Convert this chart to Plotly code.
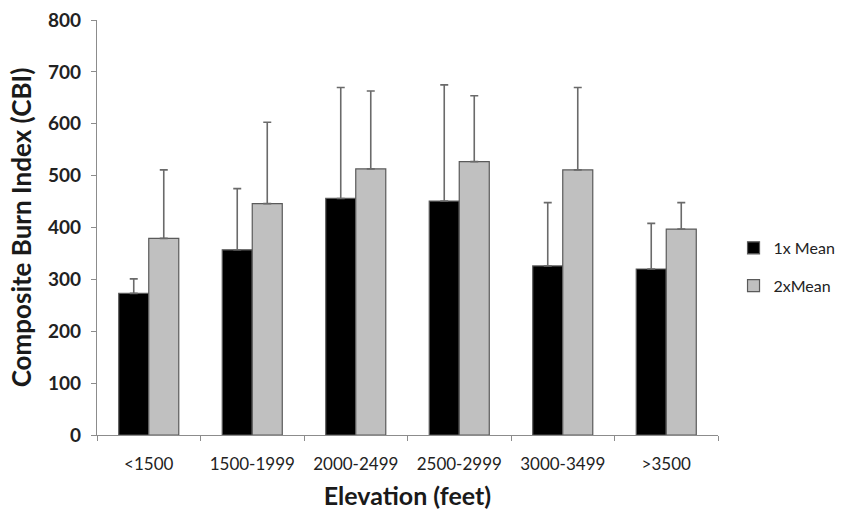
import plotly.graph_objects as go

# Elevation bands and composite burn index values
categories = ["<1500", "1500-1999", "2000-2499", "2500-2999", "3000-3499", ">3500"]
mean_1x = [273, 357, 456, 451, 326, 320]
err_1x = [28, 118, 214, 224, 122, 88]
mean_2x = [379, 446, 513, 527, 511, 397]
err_2x = [132, 157, 150, 127, 159, 51]

bar_line = dict(color="#5a5a5a", width=1.2)
err_style = dict(symmetric=False, thickness=1.6, width=4, color="#6a6a6a")

fig = go.Figure()
fig.add_trace(go.Bar(
    x=categories, y=mean_1x, name="1x Mean", legendgroup="a",
    marker=dict(color="#000000", line=bar_line),
    error_y=dict(type="data", array=err_1x, arrayminus=[0] * len(err_1x), **err_style),
))
fig.add_trace(go.Bar(
    x=categories, y=mean_2x, name="2xMean", legendgroup="b",
    marker=dict(color="#c0c0c0", line=bar_line),
    error_y=dict(type="data", array=err_2x, arrayminus=[0] * len(err_2x), **err_style),
))

fig.update_layout(
    width=843, height=517,
    margin=dict(l=97, r=125, t=20, b=82, autoexpand=False),
    paper_bgcolor="white", plot_bgcolor="white",
    barmode="group", bargap=0.42, bargroupgap=0,
    font=dict(family="Lato, Open Sans, sans-serif", color="#222222"),
    showlegend=True,
    legend=dict(x=1.025, y=0.405, xanchor="left", yanchor="middle",
                font=dict(size=16, color="#222222"), tracegroupgap=14,
                itemwidth=30),
    xaxis=dict(
        title=dict(text="<b>Elevation (feet)</b>", font=dict(size=25, color="#1a1a1a"), standoff=14),
        showline=True, linecolor="#8c8c8c", linewidth=1.2,
        ticks="outside", tickson="boundaries", ticklen=5, tickcolor="#8c8c8c",
        tickfont=dict(size=17, color="#222222"), ticklabelstandoff=13,
    ),
    yaxis=dict(
        title=dict(text="<b>Composite Burn Index (CBI)</b>", font=dict(size=26, color="#1a1a1a"), standoff=8),
        range=[0, 800], dtick=100, showgrid=False, zeroline=False,
        showline=True, linecolor="#8c8c8c", linewidth=1.2,
        ticks="outside", ticklen=5, tickcolor="#8c8c8c",
        tickfont=dict(size=19, color="#222222", weight="bold"), ticklabelstandoff=6,
    ),
)

fig.write_html("out.html")
